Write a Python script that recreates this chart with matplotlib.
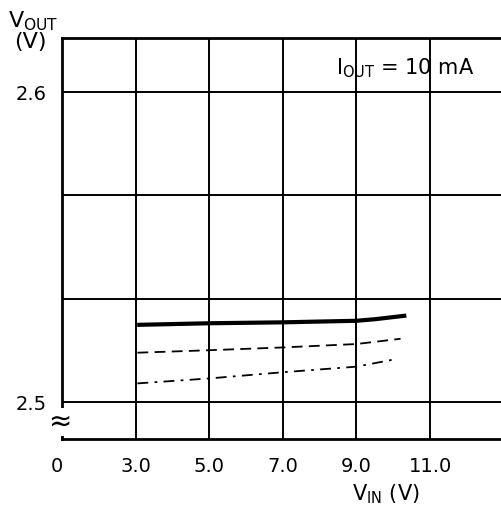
"""V_OUT vs V_IN line-regulation chart (I_OUT = 10 mA), three curves."""

import numpy as np
import matplotlib

matplotlib.use("Agg")
import matplotlib.pyplot as plt
import matplotlib.transforms as mtransforms

# x axis is broken between 0 and 3.0: each grid step is one plot unit
X_TICK_LABELS = ["0", "3.0", "5.0", "7.0", "9.0", "11.0"]

# curves (V_IN in volts, V_OUT in volts)
SOLID_VIN = [3.1, 5.0, 7.0, 9.0, 9.5, 10.3]
SOLID_VOUT = [2.5249, 2.5254, 2.5257, 2.5262, 2.5267, 2.5278]
DASH_VIN = [3.05, 5.0, 7.0, 9.0, 10.2]
DASH_VOUT = [2.5159, 2.5167, 2.5176, 2.5187, 2.5204]
DASHDOT_VIN = [3.05, 5.0, 7.0, 9.0, 10.1]
DASHDOT_VOUT = [2.5060, 2.5076, 2.5096, 2.5114, 2.5139]

Y_GRID = [2.5, 2.5 + 0.1 / 3, 2.5 + 0.2 / 3, 2.6]
Y_TICK_LABELS = {2.5: "2.5", 2.6: "2.6"}


def vin_to_pos(v):
    # 3.0 -> 1, 5.0 -> 2, ... (2 V per grid step)
    return (np.asarray(v, float) - 1.0) / 2.0


plt.rcParams.update({"font.family": "DejaVu Sans", "font.size": 14,
                     "mathtext.fontset": "dejavusans"})

fig = plt.figure(figsize=(5.01, 5.09), dpi=100)
ax = fig.add_axes([62 / 501, 70 / 509, 439 / 501, 401 / 509])

ax.set_xlim(0, 439 / 73.6)
ax.set_ylim(2.5 - 37 / 3100, 2.6 + 54 / 3100)

for p in range(1, 6):
    ax.axvline(p, color="black", lw=1.4, zorder=1)
for y in Y_GRID:
    ax.axhline(y, color="black", lw=1.4, zorder=1)

ax.plot(vin_to_pos(SOLID_VIN), SOLID_VOUT, color="black", lw=3.0, zorder=3)
ax.plot(vin_to_pos(DASH_VIN), DASH_VOUT, color="black", lw=1.3,
        dashes=(6, 3.5), zorder=3)
ax.plot(vin_to_pos(DASHDOT_VIN), DASHDOT_VOUT, color="black", lw=1.3,
        dashes=(6, 3.5, 1.5, 3.5), zorder=3)

for side in ("left", "top", "bottom"):
    ax.spines[side].set_linewidth(2.0)
ax.spines["right"].set_visible(False)

ax.set_xticks(range(len(X_TICK_LABELS)))
ax.set_xticklabels(X_TICK_LABELS)
ax.set_yticks(list(Y_TICK_LABELS))
ax.set_yticklabels(list(Y_TICK_LABELS.values()))
ax.tick_params(length=0, pad=11)
ax.tick_params(axis="x", pad=13)
# the "0" label sits a little left of the axis line
zero = ax.xaxis.get_major_ticks()[0].label1
zero.set_transform(zero.get_transform()
                   + mtransforms.ScaledTranslation(-5 / 100, 0, fig.dpi_scale_trans))

# axis break mark on the y axis
ax.text(-0.005, 2.4937, "\u2248", transform=ax.get_yaxis_transform(),
        ha="center", va="center", fontsize=20,
        bbox=dict(fc="white", ec="none", pad=0), zorder=5, clip_on=False)

fig.text(8 / 501, 1 - 21 / 509, r"V$_{\mathrm{OUT}}$", ha="left", va="center",
         fontsize=16)
fig.text(14 / 501, 1 - 42 / 509, "(V)", ha="left", va="center", fontsize=16)
fig.text(474 / 501, 1 - 68 / 509, r"I$_{\mathrm{OUT}}$ = 10 mA", ha="right",
         va="center", fontsize=15)
fig.text(386 / 501, 1 - 494 / 509, r"V$_{\mathrm{IN}}$ (V)", ha="center",
         va="center", fontsize=15)

fig.savefig("out.png", dpi=100)
